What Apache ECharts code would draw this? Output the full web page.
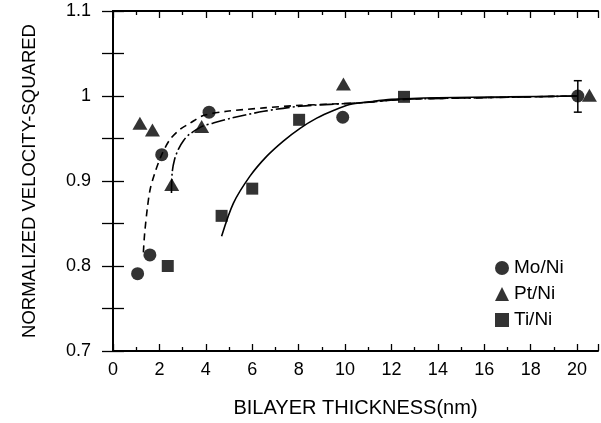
<!DOCTYPE html>
<html>
<head>
<meta charset="utf-8">
<script src="https://cdn.jsdelivr.net/npm/echarts@6/dist/echarts.min.js"></script>
<style>html,body{margin:0;padding:0;background:#fff}#c{width:601px;height:423px}</style>
</head>
<body>
<div id="c"></div>
<script>
// Measured points
var moX = [1.06, 1.59, 2.1, 4.14, 9.9, 20.03];
var moY = [0.791, 0.813, 0.931, 0.981, 0.975, 1.0];
var ptX = [1.16, 1.7, 2.53, 3.82, 9.93, 20.53];
var ptY = [0.968, 0.960, 0.896, 0.964, 1.014, 1.001];
var tiX = [2.36, 4.68, 6.0, 8.02, 12.54];
var tiY = [0.800, 0.859, 0.891, 0.972, 0.999];

// Error bar on the Mo/Ni point at ~20 nm
var errX = [20.03];
var errLow = [0.981];
var errHigh = [1.018];

// Fitted curves
var moFitX = [1.31, 1.34, 1.38, 1.48, 1.6, 1.81, 2.1, 2.46, 2.9, 3.32, 3.89, 4.9, 6.5, 8.06, 10.65, 12.5, 16, 20];
var moFitY = [0.816, 0.83, 0.843, 0.868, 0.89, 0.91, 0.931, 0.949, 0.961, 0.968, 0.977, 0.982, 0.986, 0.989, 0.992, 0.996, 0.998, 1.0];
var ptFitX = [2.52, 2.55, 2.65, 2.81, 3.05, 3.3, 3.82, 4.3, 5.1, 6.5, 8.06, 10.65, 12.5, 16, 20];
var ptFitY = [0.886, 0.91, 0.925, 0.937, 0.948, 0.955, 0.964, 0.968, 0.974, 0.982, 0.988, 0.992, 0.996, 0.998, 1.0];
var tiFitX = [4.68, 5.19, 5.91, 6.62, 7.34, 8.06, 8.78, 9.5, 10.2, 11.0, 12.0, 14, 17, 20];
var tiFitY = [0.835, 0.874, 0.906, 0.929, 0.947, 0.962, 0.974, 0.983, 0.990, 0.993, 0.996, 0.998, 0.999, 1.0];

var xTicks = [0, 2, 4, 6, 8, 10, 12, 14, 16, 18, 20];
var yTicks = [0.7, 0.8, 0.9, 1, 1.1];
var names = ['Mo/Ni', 'Pt/Ni', 'Ti/Ni'];

function zip(a, b) { return a.map(function (v, i) { return [v, b[i]]; }); }

var FONT = 'Liberation Sans';
var chart = echarts.init(document.getElementById('c'), null, { renderer: 'canvas' });

var baseX = {
  type: 'value', min: 0, max: 20.9, interval: 2,
  axisLine: { show: true, lineStyle: { color: '#000', width: 2 } },
  axisTick: { show: true, inside: true, length: 7, lineStyle: { color: '#000', width: 1.3 } },
  minorTick: { show: true, splitNumber: 2, length: 4, lineStyle: { color: '#000', width: 1.3 } },
  splitLine: { show: false }
};
var baseY = {
  type: 'value', min: 0.7, max: 1.1, interval: 0.1,
  axisLine: { show: true, lineStyle: { color: '#000', width: 2 } },
  axisTick: { show: true, inside: true, length: 11, lineStyle: { color: '#000', width: 1.3 } },
  minorTick: { show: true, splitNumber: 2, length: 11, lineStyle: { color: '#000', width: 1.3 } },
  splitLine: { show: false }
};

var option = {
  animation: false,
  backgroundColor: '#fff',
  grid: { left: 113, right: 3, top: 11, bottom: 71 },
  xAxis: [
    Object.assign({}, baseX, {
      position: 'bottom',
      name: 'BILAYER THICKNESS(nm)', nameLocation: 'middle', nameGap: 47,
      nameTextStyle: { fontFamily: FONT, fontSize: 20, color: '#000' },
      axisLabel: { show: true, margin: 10, fontFamily: FONT, fontSize: 18, color: '#000',
        formatter: function (v) { return xTicks.indexOf(v) >= 0 ? String(v) : ''; } }
    }),
    Object.assign({}, baseX, { position: 'top', axisLabel: { show: false } })
  ],
  yAxis: [
    Object.assign({}, baseY, {
      position: 'left',
      name: 'NORMALIZED VELOCITY-SQUARED', nameLocation: 'middle', nameGap: 74,
      nameTextStyle: { fontFamily: FONT, fontSize: 18.5, color: '#000' },
      axisLabel: { show: true, margin: 22, fontFamily: FONT, fontSize: 18, color: '#000',
        formatter: function (v) {
          var r = Math.round(v * 10) / 10;
          for (var i = 0; i < yTicks.length; i++) if (Math.abs(yTicks[i] - r) < 1e-9) return String(yTicks[i]);
          return '';
        } }
    }),
    Object.assign({}, baseY, { position: 'right', axisLabel: { show: false } })
  ],
  legend: {
    orient: 'vertical', left: 490, top: 253,
    itemWidth: 14, itemHeight: 14, itemGap: 6,
    textStyle: { fontFamily: FONT, fontSize: 19, color: '#000', lineHeight: 20 },
    data: [
      { name: names[0], icon: 'circle' },
      { name: names[1], icon: 'triangle' },
      { name: names[2], icon: 'rect' }
    ]
  },
  series: [
    { type: 'line', data: zip(moFitX, moFitY), smooth: 0.3, symbol: 'none', silent: true,
      lineStyle: { color: '#000', width: 1.6, type: [7, 5] }, z: 2 },
    { type: 'line', data: zip(ptFitX, ptFitY), smooth: 0.3, symbol: 'none', silent: true,
      lineStyle: { color: '#000', width: 1.6, type: [14, 3, 2, 3] }, z: 2 },
    { type: 'line', data: zip(tiFitX, tiFitY), smooth: 0.3, symbol: 'none', silent: true,
      lineStyle: { color: '#000', width: 1.6 }, z: 2 },
    { type: 'custom', silent: true, z: 3,
      data: errX.map(function (x, i) { return [x, errLow[i], errHigh[i]]; }),
      renderItem: function (params, api) {
        var lo = api.coord([api.value(0), api.value(1)]);
        var hi = api.coord([api.value(0), api.value(2)]);
        var w = 4;
        var st = { stroke: '#000', lineWidth: 1.5 };
        return { type: 'group', children: [
          { type: 'line', shape: { x1: lo[0], y1: lo[1], x2: hi[0], y2: hi[1] }, style: st },
          { type: 'line', shape: { x1: lo[0] - w, y1: lo[1], x2: lo[0] + w, y2: lo[1] }, style: st },
          { type: 'line', shape: { x1: hi[0] - w, y1: hi[1], x2: hi[0] + w, y2: hi[1] }, style: st }
        ] };
      } },
    { name: names[0], type: 'scatter', data: zip(moX, moY), symbol: 'circle', symbolSize: 13,
      itemStyle: { color: '#000' }, z: 4 },
    { name: names[1], type: 'scatter', data: zip(ptX, ptY), symbol: 'triangle', symbolSize: [15, 13],
      itemStyle: { color: '#000' }, z: 4 },
    { name: names[2], type: 'scatter', data: zip(tiX, tiY), symbol: 'rect', symbolSize: 12,
      itemStyle: { color: '#000' }, z: 4 }
  ]
};
chart.setOption(option);
</script>
</body>
</html>
